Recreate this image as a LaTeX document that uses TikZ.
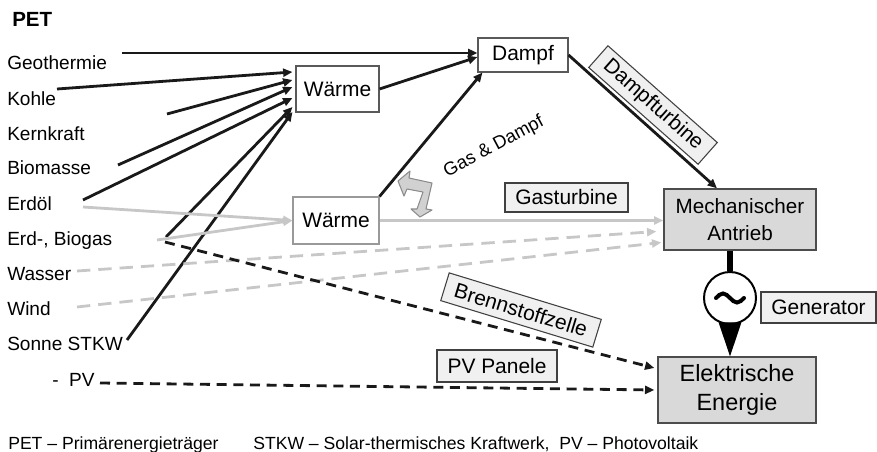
\documentclass[tikz,border=0pt]{standalone}
\usepackage{fontspec}
\setmainfont{Liberation Sans}
\usetikzlibrary{arrows.meta,calc}
\newlength\pxu
\setlength\pxu{0.75pt}
\tikzset{
  plainbox/.style={draw=black!65, line width=0.8pt, fill=white, inner sep=0pt,
    align=center, font=\fontsize{15.7}{18}\selectfont},
  labelbox/.style={plainbox, draw=black!75, fill=black!6},
  energybox/.style={plainbox, draw=black!70, fill=black!15, line width=1pt},
  srclabel/.style={anchor=base west, inner sep=0pt, font=\fontsize{14.3}{17}\selectfont},
  blackline/.style={line width=2.1pt, black!90, -{Triangle[length=7pt,width=6pt]}},
  grayline/.style={line width=2.1pt, black!22, -{Triangle[length=7pt,width=6pt]}},
  graydash/.style={grayline, dash pattern=on 10pt off 6pt},
  blackdash/.style={blackline, dash pattern=on 7.5pt off 5pt}
}
\begin{document}
\begin{tikzpicture}[x=0.75pt, y=-0.75pt]
\useasboundingbox (0,0) rectangle (877,452);

% Primaerenergietraeger
\node[srclabel, font=\bfseries\fontsize{15.4}{18}\selectfont] (pet) at (12,27) {PET};
\node[srclabel] (geo) at (7,70) {Geothermie};
\node[srclabel] (kohle) at (7,106) {Kohle};
\node[srclabel] (kern) at (7,141) {Kernkraft};
\node[srclabel] (bio) at (7,175) {Biomasse};
\node[srclabel] (oel) at (7,211) {Erdöl};
\node[srclabel] (gas) at (7,245) {Erd-, Biogas};
\node[srclabel] (wasser) at (7,280) {Wasser};
\node[srclabel] (wind) at (7,315) {Wind};
\node[srclabel] (sonne) at (7,350) {Sonne STKW};
\node[srclabel] (pv) at (52,386) {-\ \ PV};

\coordinate (geo-out) at (122,53);
\coordinate (kohle-out) at (57,89);
\coordinate (kern-out) at (167,114);
\coordinate (bio-out) at (118,165);
\coordinate (oel-out) at (83,200);
\coordinate (oel-gray) at (83,207);
\coordinate (gas-out) at (166,237);
\coordinate (gas-gray) at (157,240);
\coordinate (gas-dash) at (165,242);
\coordinate (wasser-out) at (77,271);
\coordinate (wind-out) at (77,307);
\coordinate (sonne-out) at (127,340);
\coordinate (pv-out) at (100,383);

% Zwischenstufen
\node[plainbox, minimum width=83\pxu, minimum height=46\pxu] (waerme1) at (337.5,89) {Wärme};
\node[plainbox, minimum width=90\pxu, minimum height=34\pxu] (dampf) at (523,55) {Dampf};
\node[plainbox, draw=black!40, minimum width=86\pxu, minimum height=47\pxu] (waerme2) at (336,220.5) {Wärme};
\node[energybox, font=\fontsize{15.5}{20}\selectfont, minimum width=152\pxu, minimum height=61\pxu] (mech) at (740,219.5) {Mechanischer\\Antrieb};
\node[energybox, font=\fontsize{17.6}{21.2}\selectfont, minimum width=158\pxu, minimum height=66\pxu] (elektro) at (737,390) {Elektrische\\Energie};

% Beschriftungen
\node[labelbox, minimum width=123\pxu, minimum height=29\pxu] (gasturbine) at (566.5,197.5) {Gasturbine};
\node[labelbox, minimum width=120\pxu, minimum height=32\pxu] (pvpanel) at (497,366) {PV Panele};
\node[labelbox, minimum width=115\pxu, minimum height=31\pxu] (genlabel) at (818.5,307.5) {Generator};
\node[labelbox, rotate=-41.5, minimum width=146\pxu, minimum height=29\pxu] (dampfturbine) at (653,105) {Dampfturbine};
\node[labelbox, rotate=-17, minimum width=159\pxu, minimum height=29\pxu] (brennstoff) at (521,310) {Brennstoffzelle};
\node[inner sep=0pt, rotate=28, black, font=\fontsize{13.8}{16}\selectfont] (gasdampf) at (494,147) {Gas \& Dampf};

% Pfade
\draw[blackline] (geo-out) -- ($(dampf.west)+(0,-2)$);
\draw[blackline] (kohle-out) -- ($(waerme1.west)+(-3,-17)$);
\draw[blackline] (kern-out) -- ($(waerme1.west)+(-3,-9)$);
\draw[blackline] (bio-out) -- ($(waerme1.west)+(-3,-2)$);
\draw[blackline] (oel-out) -- ($(waerme1.west)+(-3,9)$);
\draw[blackline] (gas-out) -- ($(waerme1.west)+(-3,18)$);
\draw[blackline] (sonne-out) -- ($(waerme1.west)+(-3,23)$);
\draw[blackline] (waerme1.east) -- ($(dampf.west)+(0,2)$);
\draw[blackline] (waerme2.north east) -- ($(dampf.south west)+(5,0)$);
\draw[blackline] (dampf.east) -- ($(mech.north)+(-23,0)$);

\draw[grayline] (oel-gray) -- (waerme2.west);
\draw[grayline] (gas-gray) -- (waerme2.west);
\draw[grayline] (waerme2.east) -- (waerme2.east -| mech.west);
\draw[graydash] (wasser-out) -- ($(mech.west)+(-7,12)$);
\draw[graydash] (wind-out) -- ($(mech.west)+(-2,23)$);

\draw[blackdash] (gas-dash) -- ($(elektro.west)+(-3,-22)$);
\draw[blackdash] (pv-out) -- ($(elektro.west)+(-3,0)$);

% Generator
\node[circle, draw, line width=1.5pt, fill=white, minimum size=52\pxu, inner sep=0pt] (generator) at (730,298) {};
\draw[line width=4.5pt] (generator.north) -- (generator.north |- mech.south);
\fill (generator.245) -- (generator.295) -- (generator.south |- elektro.north) -- cycle;
\draw[line width=3pt, line cap=round] ($(generator.center)+(-14,0)$) sin ++(7,-4.5) cos ++(7,4.5) sin ++(7,4.5) cos ++(7,-4.5);

% Gas & Dampf Pfeil
\draw[black!45, fill=black!18, line width=0.8pt, line join=round] (398,181) -- (410,171) -- (409,178) -- (432,183) -- (426,209) -- (432,210) -- (420,217) -- (411,209) -- (417,209) -- (423,192) -- (407,189) -- (404,196) -- cycle;

% Legende
\node[srclabel, font=\fontsize{13.2}{16}\selectfont] (footpet) at (8,449) {PET – Primärenergieträger};
\node[srclabel, font=\fontsize{13.2}{16}\selectfont] (footstkw) at (253,449) {STKW – Solar-thermisches Kraftwerk,\ \ PV – Photovoltaik};
\end{tikzpicture}
\end{document}
